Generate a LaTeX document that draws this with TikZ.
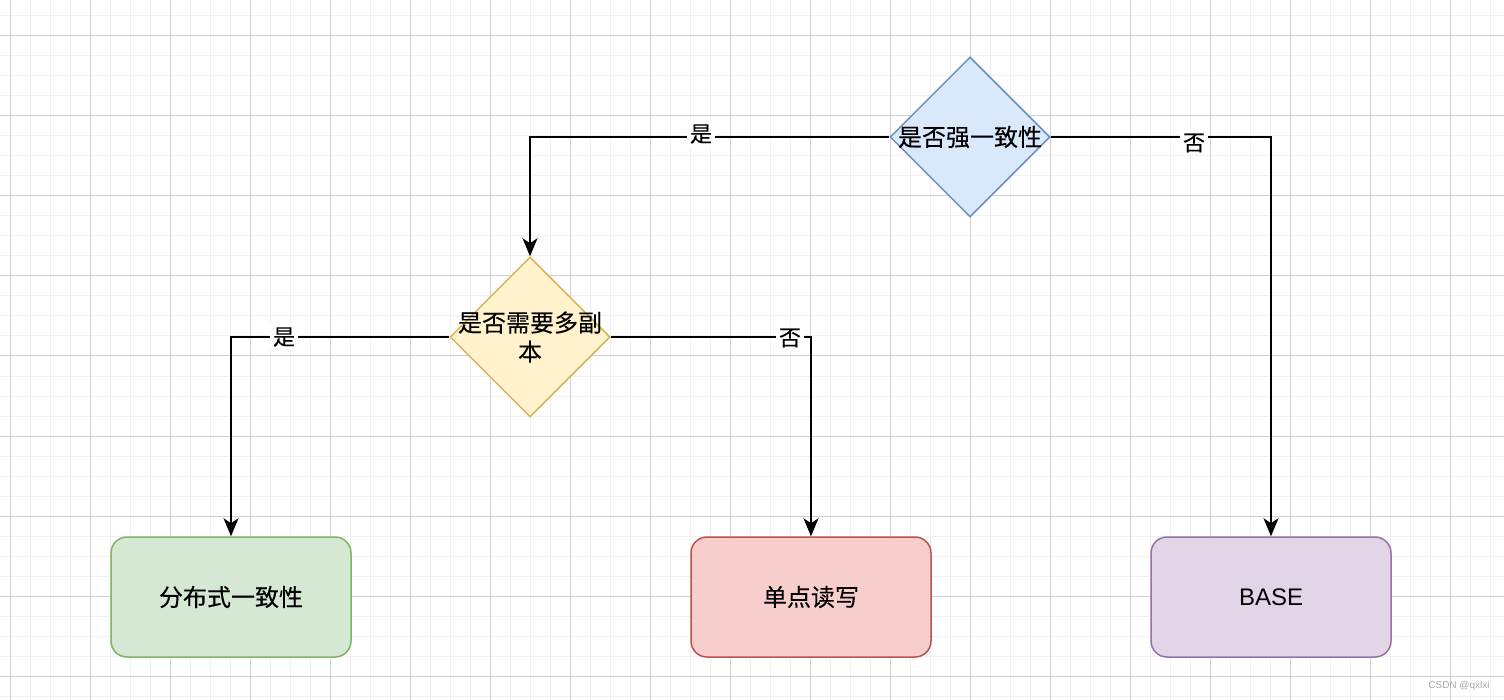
\documentclass[tikz,border=0pt]{standalone}
\usepackage{fontspec}
\setmainfont{Liberation Sans}
\newfontfamily\cjk[FakeBold=0.25]{Noto Sans CJK SC}
\usetikzlibrary{shapes.geometric,arrows.meta}
\definecolor{gridmajor}{HTML}{D0D0D0}
\definecolor{gridminor}{HTML}{F0F0F0}
\definecolor{bluefill}{HTML}{DAE8FC}\definecolor{bluedraw}{HTML}{6C8EBF}
\definecolor{yellowfill}{HTML}{FFF2CC}\definecolor{yellowdraw}{HTML}{D6B656}
\definecolor{greenfill}{HTML}{D5E8D4}\definecolor{greendraw}{HTML}{82B366}
\definecolor{redfill}{HTML}{F8CECC}\definecolor{reddraw}{HTML}{B85450}
\definecolor{purplefill}{HTML}{E1D5E7}\definecolor{purpledraw}{HTML}{9673A6}
\tikzset{
  decision/.style={diamond, draw=#1draw, fill=#1fill, line width=1.5pt, minimum width=160pt, minimum height=160pt, inner sep=0pt},
  endbox/.style={rectangle, rounded corners=16pt, draw=#1draw, fill=#1fill, line width=1.5pt, minimum width=240pt, minimum height=120pt, font=\cjk\fontsize{24}{28}\selectfont},
  dtext/.style={font=\cjk\fontsize{24}{29}\selectfont, align=center},
  flow/.style={draw=black, line width=1.6pt, -{Stealth[length=18pt,width=15pt,inset=5pt]}},
  elabel/.style={fill=white, inner sep=3pt, font=\cjk\fontsize{22}{24}\selectfont}
}
\begin{document}
\begin{tikzpicture}[x=1pt,y=-1pt]
\useasboundingbox (0,0) rectangle (1504,700);
\fill[white] (0,0) rectangle (1504,700);
% grid
\foreach \x in {10,30,...,1504} \draw[gridminor, line width=1pt] (\x,0) -- (\x,700);
\foreach \y in {16,36,...,700} \draw[gridminor, line width=1pt] (0,\y) -- (1504,\y);
\foreach \x in {10,90,...,1504} \draw[gridmajor, line width=1pt] (\x,0) -- (\x,700);
\foreach \y in {36,116,...,700} \draw[gridmajor, line width=1pt] (0,\y) -- (1504,\y);
% nodes
\node[decision=blue] (d1) at (970,137) {};
\node[dtext] (d1t) at (d1.center) {是否强一致性};
\node[decision=yellow] (d2) at (530,337) {};
\node[dtext] (d2t) at (530,337) {是否需要多副\\本};
\node[endbox=green] (b1) at (231,597) {分布式一致性};
\node[endbox=red] (b2) at (811,597) {单点读写};
\node[endbox=purple, font=\fontsize{24}{28}\selectfont] (b3) at (1271,597) {BASE};
% connectors
\draw[flow] (d1.west) -| (d2.north);
\draw[flow] (d1.east) -| (b3.north);
\draw[flow] (d2.west) -| (b1.north);
\draw[flow] (d2.east) -| (b2.north);
% labels
\node[elabel] (l1) at (701,134) {是};
\node[elabel] (l2) at (1194,143) {否};
\node[elabel] (l3) at (284,337) {是};
\node[elabel] (l4) at (790,338) {否};
% watermark
\node[text=gray!70, font=\fontsize{10}{12}\selectfont, inner sep=0pt] (wm) at (1459,686) {CSDN @qxlxi};
\end{tikzpicture}
\end{document}
